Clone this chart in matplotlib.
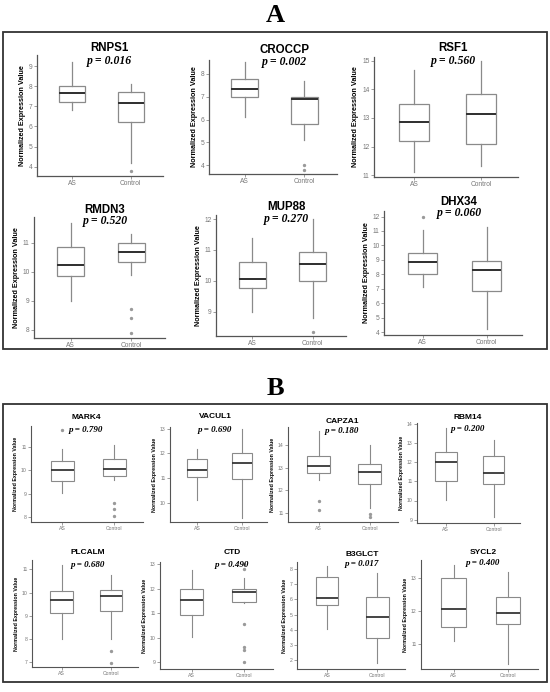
import matplotlib
matplotlib.use("Agg")
import matplotlib.pyplot as plt
from matplotlib.patches import Rectangle
from matplotlib.ticker import MultipleLocator

# ---- data: [whislo, q1, median, q3, whishi] ----
genes_a = ["RNPS1", "CROCCP", "RSF1", "RMDN3", "MUP88", "DHX34"]
pvals_a = ["0.016", "0.002", "0.560", "0.520", "0.270", "0.060"]
as_a = [[6.8, 7.2, 7.65, 8.0, 9.2],
        [6.1, 6.97, 7.35, 7.75, 8.5],
        [11.1, 12.2, 12.85, 13.5, 14.7],
        [9.0, 9.87, 10.25, 10.85, 11.7],
        [9.0, 9.78, 10.05, 10.6, 11.4],
        [7.1, 8.0, 8.85, 9.5, 11.1]]
ctrl_a = [[4.2, 6.2, 7.15, 7.7, 8.1],
          [5.1, 5.8, 6.9, 7.0, 7.7],
          [11.3, 12.1, 13.15, 13.85, 15.0],
          [9.9, 10.35, 10.7, 11.0, 11.3],
          [8.8, 10.0, 10.55, 10.93, 12.0],
          [4.2, 6.87, 8.3, 8.93, 11.3]]
as_out_a = [[], [], [], [], [], [12.0]]
ctrl_out_a = [[3.8], [4.0, 3.8], [], [8.7, 8.4, 7.9], [8.35], []]
ylim_a = [(3.54, 9.55), (3.62, 8.6), (10.93, 15.14), (7.71, 11.9), (8.21, 12.13), (3.82, 12.38)]

genes_b = ["MARK4", "VACUL1", "CAPZA1", "RBM14", "PLCALM", "CTD", "B3GLCT", "SYCL2"]
pvals_b = ["0.790", "0.690", "0.180", "0.200", "0.680", "0.490", "0.017", "0.400"]
as_b = [[9.02, 9.54, 10.0, 10.4, 10.92],
        [10.13, 11.05, 11.34, 11.78, 12.2],
        [12.44, 12.78, 13.06, 13.51, 14.64],
        [10.05, 11.03, 12.02, 12.5, 13.77],
        [8.0, 9.11, 9.67, 10.07, 11.19],
        [10.02, 10.94, 11.54, 12.01, 12.77],
        [4.04, 5.6, 6.05, 7.46, 8.15],
        [11.1, 11.5, 12.05, 13.02, 13.41]]
ctrl_b = [[9.6, 9.78, 10.07, 10.48, 11.08],
          [9.4, 10.95, 11.61, 12.02, 13.0],
          [11.21, 12.29, 12.81, 13.18, 14.0],
          [9.14, 10.84, 11.45, 12.32, 13.16],
          [8.0, 9.21, 9.87, 10.1, 10.76],
          [11.41, 11.48, 11.89, 11.98, 12.46],
          [1.83, 3.45, 4.86, 6.16, 7.74],
          [10.39, 11.6, 11.94, 12.44, 13.2]]
as_out_b = [[11.7], [], [11.52, 11.1], [], [], [], [], []]
ctrl_out_b = [[8.6, 8.35, 8.05], [], [10.93, 10.82], [], [7.47, 6.97],
              [13.0, 12.8, 10.57, 9.62, 9.51, 9.0], [], []]
ylim_b = [(7.8, 11.89), (9.23, 13.07), (10.58, 14.82), (8.83, 14.03),
          (6.8, 11.4), (8.73, 13.1), (1.44, 8.43), (10.23, 13.56)]
groups = ["AS", "Control"]

W, H = 550, 692
plt.rcParams['font.family'] = ['Liberation Sans', 'DejaVu Sans']
fig = plt.figure(figsize=(W / 100, H / 100), dpi=100)


def px_axes(x0, x1, ytop, ybot):
    return fig.add_axes([x0 / W, 1 - ybot / H, (x1 - x0) / W, (ybot - ytop) / H])


def ftext(x, y, s, **kw):
    fig.text(x / W, 1 - y / H, s, ha='center', va='center', **kw)


def draw_box(ax, as_st, ctrl_st, as_out, ctrl_out, ylim, fs_tick, fs_lab, lw):
    stats = []
    for st, out, lab in [(as_st, as_out, groups[0]), (ctrl_st, ctrl_out, groups[1])]:
        stats.append(dict(whislo=st[0], q1=st[1], med=st[2], q3=st[3], whishi=st[4],
                          fliers=out, label=lab))
    ax.bxp(stats, positions=[1, 2], widths=0.45, showcaps=False, patch_artist=True,
           boxprops=dict(facecolor='white', edgecolor='#8a8a8a', linewidth=lw),
           whiskerprops=dict(color='#8a8a8a', linewidth=lw),
           medianprops=dict(color='#333333', linewidth=lw * 1.6),
           flierprops=dict(marker='o', markersize=1.4, markerfacecolor='#9a9a9a',
                           markeredgecolor='#9a9a9a'))
    ax.set_xlim(0.4, 2.55)
    ax.set_ylim(*ylim)
    ax.yaxis.set_major_locator(MultipleLocator(1))
    for side in ['top', 'right']:
        ax.spines[side].set_visible(False)
    for side in ['left', 'bottom']:
        ax.spines[side].set_color('#555555')
        ax.spines[side].set_linewidth(lw)
    ax.tick_params(labelsize=fs_tick, colors='#777777', length=2, width=0.5, pad=1.2)
    ax.set_ylabel("Normalized Expression Value", fontsize=fs_lab, fontweight='bold',
                  labelpad=2)
    ax.set_facecolor('none')


# ---- panel A ----
axes_a = [(37, 163, 55, 176), (209, 337, 60, 174), (374, 518, 57, 177),
          (34, 165, 217, 338), (216, 346, 215, 336), (384, 522, 211, 335)]
titles_a = [(109, 48, 61), (284, 50, 62), (453, 48, 61),
            (105, 210, 221), (286, 207, 219), (459, 202, 213)]
for i in range(6):
    ax = px_axes(*axes_a[i])
    draw_box(ax, as_a[i], ctrl_a[i], as_out_a[i], ctrl_out_a[i], ylim_a[i], 4.8, 5.2, 0.9)
    x, ty, py = titles_a[i]
    ftext(x, ty, genes_a[i], fontsize=8.3, fontweight='bold')
    ftext(x, py, "p = " + pvals_a[i], fontsize=8.5, fontweight='bold', style='italic',
          family=['Liberation Serif', 'DejaVu Serif'])

# ---- panel B ----
axes_b = [(31, 143, 426, 522), (170, 267, 427, 522), (288, 398, 427, 522), (417, 520, 423, 523),
          (32, 138, 560, 667), (160, 273, 562, 669), (297, 405, 562, 669), (421, 538, 560, 669)]
titles_b = [(86, 418, 430), (215, 417, 430), (342, 421, 431), (468, 418, 429),
            (88, 553, 565), (232, 553, 565), (362, 555, 564), (483, 553, 563)]
for i in range(8):
    ax = px_axes(*axes_b[i])
    draw_box(ax, as_b[i], ctrl_b[i], as_out_b[i], ctrl_out_b[i], ylim_b[i], 3.7, 3.8, 0.8)
    x, ty, py = titles_b[i]
    ftext(x, ty, genes_b[i], fontsize=6, fontweight='bold')
    ftext(x, py, "p = " + pvals_b[i], fontsize=6.5, fontweight='bold', style='italic',
          family=['Liberation Serif', 'DejaVu Serif'])

# panel frames and letters
for (x0, y0, x1, y1) in [(3, 32, 547, 349), (3, 404, 547, 682)]:
    fig.patches.append(Rectangle((x0 / W, 1 - y1 / H), (x1 - x0) / W, (y1 - y0) / H,
                                 transform=fig.transFigure, fill=False,
                                 edgecolor='#333333', linewidth=1.3))
ftext(275, 15, "A", fontsize=19, fontweight='bold', family=['Liberation Serif', 'DejaVu Serif'])
ftext(275, 389, "B", fontsize=19, fontweight='bold', family=['Liberation Serif', 'DejaVu Serif'])

fig.savefig("out.png", dpi=100, facecolor='white')
